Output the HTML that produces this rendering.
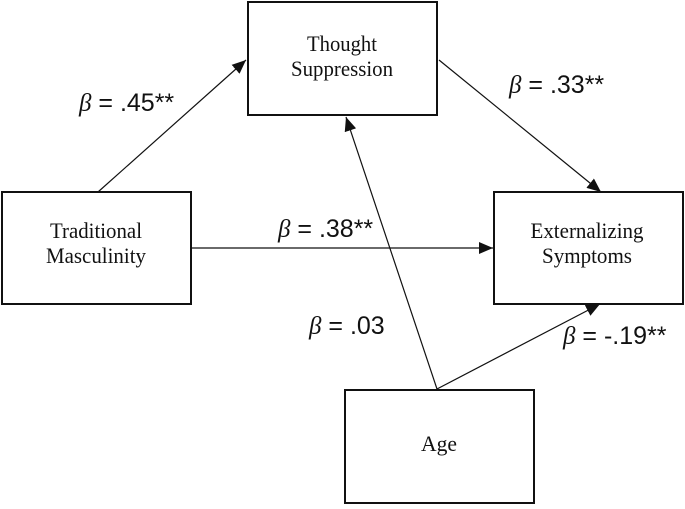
<!DOCTYPE html>
<html><head><style>body{margin:0;background:#fff}</style></head><body>
<svg width="685" height="504" viewBox="0 0 685 504" xmlns="http://www.w3.org/2000/svg" font-family="Liberation Serif, serif">
<defs><marker id="a" markerWidth="14" markerHeight="12" refX="14" refY="6" orient="auto" markerUnits="userSpaceOnUse"><path d="M0,0 L14,6 L0,12 z" fill="#111"/></marker></defs>
<g fill="none" stroke="#111" stroke-width="2">
<rect x="248" y="2" width="189" height="113"/>
<rect x="2" y="192" width="189" height="112"/>
<rect x="494" y="192" width="189" height="112"/>
<rect x="345" y="390" width="189" height="113"/>
</g>
<g stroke="#111" stroke-width="1.2" marker-end="url(#a)">
<line x1="98" y1="192" x2="246" y2="60"/>
<line x1="439" y1="60" x2="601" y2="192"/>
<line x1="191" y1="248" x2="493" y2="248"/>
<line x1="437" y1="389" x2="346" y2="117"/>
<line x1="437" y1="389" x2="600" y2="304"/>
</g>
<g font-size="22" text-anchor="middle" fill="#111">
<text x="342" y="51" textLength="70" lengthAdjust="spacingAndGlyphs">Thought</text><text x="342" y="76" textLength="102" lengthAdjust="spacingAndGlyphs">Suppression</text>
<text x="96" y="238" textLength="92" lengthAdjust="spacingAndGlyphs">Traditional</text><text x="96" y="263" textLength="100" lengthAdjust="spacingAndGlyphs">Masculinity</text>
<text x="587" y="238" textLength="113" lengthAdjust="spacingAndGlyphs">Externalizing</text><text x="587" y="263" textLength="90" lengthAdjust="spacingAndGlyphs">Symptoms</text>
<text x="439" y="451" textLength="36" lengthAdjust="spacingAndGlyphs">Age</text>
</g>
<g font-size="25" fill="#111" font-family="Liberation Sans, sans-serif">
<text x="79" y="111"><tspan font-style="italic" font-family="Liberation Serif, serif">β</tspan> = .45**</text>
<text x="509" y="93"><tspan font-style="italic" font-family="Liberation Serif, serif">β</tspan> = .33**</text>
<text x="278" y="237"><tspan font-style="italic" font-family="Liberation Serif, serif">β</tspan> = .38**</text>
<text x="309" y="334"><tspan font-style="italic" font-family="Liberation Serif, serif">β</tspan> = .03</text>
<text x="563" y="344"><tspan font-style="italic" font-family="Liberation Serif, serif">β</tspan> = -.19**</text>
</g>
</svg>
</body></html>
